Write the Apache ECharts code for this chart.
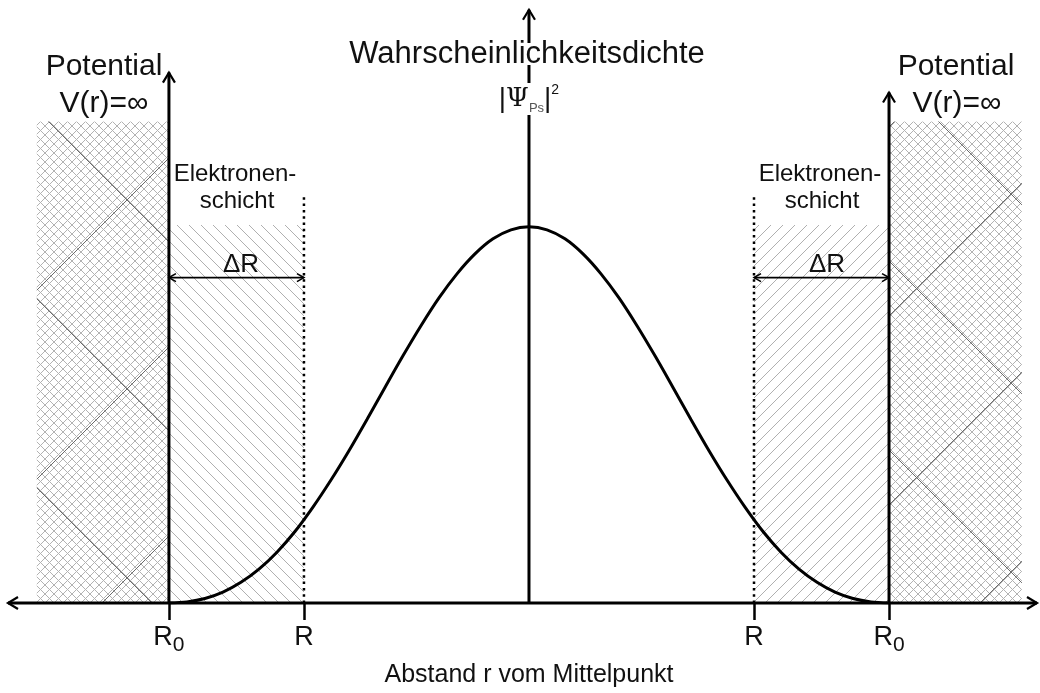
<!DOCTYPE html>
<html>
<head>
<meta charset="utf-8">
<script src="https://cdn.jsdelivr.net/npm/echarts@6/dist/echarts.min.js"></script>
<style>
html,body{margin:0;padding:0;background:#fff;}
#chart{width:1040px;height:693px;}
</style>
</head>
<body>
<div id="chart"></div>
<script>
// ---------- data (r in units of R0, density normalised to peak) ----------
const xMin = -1.447, xMax = 1.411;
const yMax = 1.603;
const tickValues = [-1, -0.625, 0.625, 1];
const tickLabels = ['R0', 'R', 'R', 'R0'];
const rValues = [-1, -0.95, -0.9, -0.85, -0.8, -0.75, -0.7, -0.65, -0.6, -0.55, -0.5,
  -0.45, -0.4, -0.35, -0.3, -0.25, -0.2, -0.15, -0.1, -0.05, 0,
  0.05, 0.1, 0.15, 0.2, 0.25, 0.3, 0.35, 0.4, 0.45, 0.5,
  0.55, 0.6, 0.65, 0.7, 0.75, 0.8, 0.85, 0.9, 0.95, 1];
const density = [0, 0.003, 0.012, 0.029, 0.055, 0.090, 0.135, 0.190, 0.255, 0.327, 0.405,
  0.488, 0.573, 0.657, 0.737, 0.811, 0.875, 0.928, 0.968, 0.992, 1.000,
  0.992, 0.968, 0.928, 0.875, 0.811, 0.737, 0.657, 0.573, 0.488, 0.405,
  0.327, 0.255, 0.190, 0.135, 0.090, 0.055, 0.029, 0.012, 0.003, 0];
// [x0, x1, top]
const potentialRegions = [[-1.367, -1, 1.28], [1, 1.369, 1.28]];
const shellRegions = [[-1, -0.625, 1.005], [0.625, 1, 1.005]];
// [x0, y0, x1, y1]
const axisLines = [[xMin, 0, xMax, 0], [-1, 0, -1, 1.41], [0, 0, 0, 1.577], [1, 0, 1, 1.357]];
// dotted lines at R: [x, top]
const shellBounds = [[-0.625, 1.087], [0.625, 1.087]];
// delta R arrows: [x0, x1, y]
const deltaArrows = [[-1, -0.625, 0.865], [0.625, 1, 0.865]];

// ---------- patterns ----------
const FONT = '"Liberation Sans", Arial, sans-serif';
function crossTile(a, b) {
  const T = 189, c = document.createElement('canvas');
  c.width = T; c.height = T;
  const g = c.getContext('2d');
  g.fillStyle = '#fff'; g.fillRect(0, 0, T, T);
  g.strokeStyle = '#b2b2b2'; g.lineWidth = 1;
  for (let k = -T; k <= 2 * T; k += 9) {
    g.beginPath(); g.moveTo(0, k); g.lineTo(T, k + T); g.stroke();
    g.beginPath(); g.moveTo(0, k); g.lineTo(T, k - T); g.stroke();
  }
  g.strokeStyle = '#6a6a6a'; g.lineWidth = 1;
  for (const s of [-T, 0, T]) {
    g.beginPath(); g.moveTo(0, a + s); g.lineTo(T, a + s + T); g.stroke();
    g.beginPath(); g.moveTo(0, b + s); g.lineTo(T, b + s - T); g.stroke();
  }
  return c;
}
function diagTile(dir) {
  const P = 12, c = document.createElement('canvas');
  c.width = P; c.height = P;
  const g = c.getContext('2d');
  g.fillStyle = '#fff'; g.fillRect(0, 0, P, P);
  g.strokeStyle = '#b0b0b0'; g.lineWidth = 1;
  for (const k of [-P, 0, P]) {
    g.beginPath();
    if (dir > 0) { g.moveTo(0, k); g.lineTo(P, k + P); }
    else { g.moveTo(0, k + P); g.lineTo(P, k); }
    g.stroke();
  }
  return c;
}
const crossPatterns = [
  { image: crossTile(73, 138), repeat: 'repeat' },
  { image: crossTile(128, 71), repeat: 'repeat' }
];
const shellPatterns = [
  { image: diagTile(1), repeat: 'repeat' },
  { image: diagTile(-1), repeat: 'repeat' }
];

function regionRenderer(patterns) {
  return function (params, api) {
    const p0 = api.coord([api.value(0), api.value(2)]);
    const p1 = api.coord([api.value(1), 0]);
    return {
      type: 'rect',
      shape: { x: p0[0], y: p0[1], width: p1[0] - p0[0], height: p1[1] - p0[1] },
      style: { fill: patterns[params.dataIndex], stroke: null }
    };
  };
}
function arrowHead(tip, ux, uy, len, half) {
  const bx = tip[0] - ux * len, by = tip[1] - uy * len;
  const px = -uy * half, py = ux * half;
  return [[bx + px, by + py], tip, [bx - px, by - py]];
}

const chart = echarts.init(document.getElementById('chart'), null, { renderer: 'canvas' });
const option = {
  animation: false,
  backgroundColor: '#fff',
  grid: { left: 8, right: 3, top: 0, bottom: 87 },
  xAxis: {
    type: 'value', min: xMin, max: xMax,
    axisLine: { show: false },
    splitLine: { show: false },
    axisTick: { show: true, customValues: tickValues, length: 17, inside: false,
      lineStyle: { color: '#000', width: 2.5 } },
    axisLabel: {
      show: true, customValues: tickValues, margin: 21,
      formatter: function (v) {
        const i = tickValues.indexOf(v);
        const t = tickLabels[i >= 0 ? i : 0];
        return t === 'R0' ? '{r|R}{s|0}' : '{r|R}';
      },
      rich: {
        r: { fontSize: 27, fontFamily: FONT, color: '#111', lineHeight: 27, verticalAlign: 'top' },
        s: { fontSize: 21, fontFamily: FONT, color: '#111', lineHeight: 21, verticalAlign: 'top', padding: [11, 0, 0, 0] }
      }
    },
    name: 'Abstand r vom Mittelpunkt',
    nameLocation: 'middle', nameGap: 60,
    nameTextStyle: { fontSize: 25, fontFamily: FONT, color: '#111', padding: [0, 0, 0, 13] }
  },
  yAxis: { type: 'value', min: 0, max: yMax, show: false },
  series: [
    {
      type: 'custom', name: 'Potential', z: 1,
      renderItem: regionRenderer(crossPatterns),
      data: potentialRegions
    },
    {
      type: 'custom', name: 'Elektronenschicht', z: 1,
      renderItem: regionRenderer(shellPatterns),
      data: shellRegions
    },
    {
      type: 'line', name: 'Wahrscheinlichkeitsdichte', z: 5,
      data: rValues.map((r, i) => [r, density[i]]),
      showSymbol: false, symbol: 'none', smooth: 0.3,
      lineStyle: { color: '#000', width: 3 }
    },
    {
      type: 'custom', name: 'R', z: 3,
      renderItem: function (params, api) {
        const a = api.coord([api.value(0), 0]);
        const b = api.coord([api.value(0), api.value(1)]);
        return { type: 'line', shape: { x1: a[0], y1: a[1], x2: b[0], y2: b[1] },
          style: { stroke: '#000', lineWidth: 2.5, lineDash: [2.5, 3.8] } };
      },
      data: shellBounds
    },
    {
      type: 'custom', name: 'deltaR', z: 4,
      renderItem: function (params, api) {
        const a = api.coord([api.value(0), api.value(2)]);
        const b = api.coord([api.value(1), api.value(2)]);
        const st = { stroke: '#000', lineWidth: 1.6, fill: null };
        return { type: 'group', children: [
          { type: 'line', shape: { x1: a[0], y1: a[1], x2: b[0], y2: b[1] }, style: st },
          { type: 'polyline', shape: { points: arrowHead(a, -1, 0, 7, 4) }, style: st },
          { type: 'polyline', shape: { points: arrowHead(b, 1, 0, 7, 4) }, style: st }
        ] };
      },
      data: deltaArrows
    },
    {
      type: 'custom', name: 'axes', z: 6,
      renderItem: function (params, api) {
        const a = api.coord([api.value(0), api.value(1)]);
        const b = api.coord([api.value(2), api.value(3)]);
        const st = { stroke: '#000', lineWidth: 3, fill: null, lineJoin: 'miter' };
        const dx = b[0] - a[0], dy = b[1] - a[1], L = Math.hypot(dx, dy);
        const ux = dx / L, uy = dy / L;
        const children = [
          { type: 'line', shape: { x1: a[0], y1: a[1], x2: b[0], y2: b[1] }, style: st },
          { type: 'polyline', shape: { points: arrowHead(b, ux, uy, 10, 6) }, style: { stroke: '#000', lineWidth: 2.2, fill: null } }
        ];
        if (Math.abs(dy) < 1) {
          children.push({ type: 'polyline', shape: { points: arrowHead(a, -ux, -uy, 10, 6) }, style: { stroke: '#000', lineWidth: 2.2, fill: null } });
        }
        return { type: 'group', children: children };
      },
      data: axisLines
    }
  ],
  graphic: [
    { type: 'text', x: 104, y: 67, z: 10, style: { text: 'Potential', font: '30px ' + FONT, fill: '#111', align: 'center', verticalAlign: 'middle', textAlign: 'center', textVerticalAlign: 'middle' } },
    { type: 'text', x: 104, y: 104, z: 10, style: { text: 'V(r)=∞', font: '30px ' + FONT, fill: '#111', align: 'center', verticalAlign: 'middle', textAlign: 'center', textVerticalAlign: 'middle' } },
    { type: 'text', x: 956, y: 67, z: 10, style: { text: 'Potential', font: '30px ' + FONT, fill: '#111', align: 'center', verticalAlign: 'middle', textAlign: 'center', textVerticalAlign: 'middle' } },
    { type: 'text', x: 957, y: 104, z: 10, style: { text: 'V(r)=∞', font: '30px ' + FONT, fill: '#111', align: 'center', verticalAlign: 'middle', textAlign: 'center', textVerticalAlign: 'middle' } },
    { type: 'text', x: 527, y: 54, z: 100, style: { text: 'Wahrscheinlichkeitsdichte', font: '31px ' + FONT, fill: '#111', align: 'center', verticalAlign: 'middle', textAlign: 'center', textVerticalAlign: 'middle', backgroundColor: '#fff', lineHeight: 22 } },
    { type: 'text', x: 529, y: 99, z: 100, style: {
        text: '{a||}{p|Ψ}{s|Ps}{a||}{e|2}', align: 'center', verticalAlign: 'middle', textAlign: 'center', textVerticalAlign: 'middle', backgroundColor: '#fff',
        rich: {
          a: { fontSize: 28, fontFamily: FONT, fill: '#111', color: '#111', lineHeight: 32, verticalAlign: 'middle' },
          p: { fontSize: 26, fontFamily: '"DejaVu Serif", serif', fill: '#111', color: '#111', lineHeight: 32, verticalAlign: 'middle' },
          s: { fontSize: 13, fontFamily: FONT, fill: '#555', color: '#555', lineHeight: 13, verticalAlign: 'bottom' },
          e: { fontSize: 14, fontFamily: FONT, fill: '#111', color: '#111', lineHeight: 14, verticalAlign: 'top' }
        } } },
    { type: 'text', x: 235, y: 174, z: 10, style: { text: 'Elektronen-', font: '24px ' + FONT, fill: '#111', align: 'center', verticalAlign: 'middle', textAlign: 'center', textVerticalAlign: 'middle' } },
    { type: 'text', x: 237, y: 201, z: 10, style: { text: 'schicht', font: '24px ' + FONT, fill: '#111', align: 'center', verticalAlign: 'middle', textAlign: 'center', textVerticalAlign: 'middle' } },
    { type: 'text', x: 820, y: 174, z: 10, style: { text: 'Elektronen-', font: '24px ' + FONT, fill: '#111', align: 'center', verticalAlign: 'middle', textAlign: 'center', textVerticalAlign: 'middle' } },
    { type: 'text', x: 822, y: 201, z: 10, style: { text: 'schicht', font: '24px ' + FONT, fill: '#111', align: 'center', verticalAlign: 'middle', textAlign: 'center', textVerticalAlign: 'middle' } },
    { type: 'text', x: 241, y: 265, z: 10, style: { text: 'ΔR', font: '26px ' + FONT, fill: '#111', align: 'center', verticalAlign: 'middle', textAlign: 'center', textVerticalAlign: 'middle' } },
    { type: 'text', x: 827, y: 265, z: 10, style: { text: 'ΔR', font: '26px ' + FONT, fill: '#111', align: 'center', verticalAlign: 'middle', textAlign: 'center', textVerticalAlign: 'middle' } }
  ]
};
chart.setOption(option);
</script>
</body>
</html>
